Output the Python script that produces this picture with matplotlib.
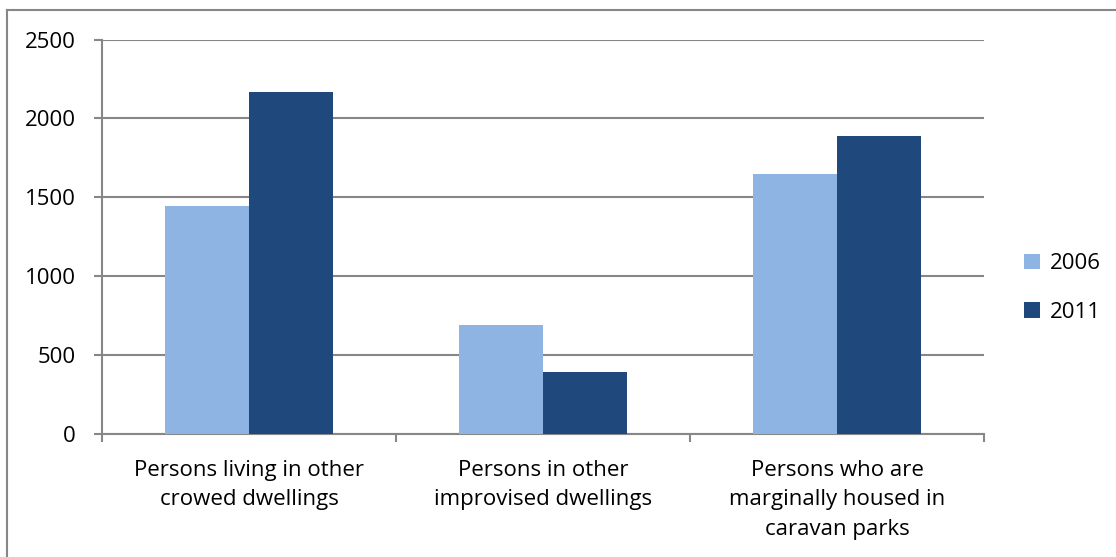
import matplotlib.pyplot as plt
import numpy as np
from matplotlib.lines import Line2D

plt.rcParams['font.family'] = ['Open Sans', 'DejaVu Sans']

categories = ["Persons living in other\ncrowed dwellings",
              "Persons in other\nimprovised dwellings",
              "Persons who are\nmarginally housed in\ncaravan parks"]
years = ["2006", "2011"]
values_2006 = [1445, 688, 1647]
values_2011 = [2170, 395, 1887]
colors = ["#8EB4E3", "#1F497D"]

W, H = 1116, 557
fig = plt.figure(figsize=(W / 100, H / 100), dpi=100)
ax = fig.add_axes([102 / W, 1 - 434 / H, (984 - 102) / W, (434 - 39.5) / H])

x = np.arange(len(categories))
w = 0.2857
ax.bar(x - w / 2, values_2006, w, color=colors[0], label=years[0], zorder=3)
ax.bar(x + w / 2, values_2011, w, color=colors[1], label=years[1], zorder=3)

grid_c = "#878787"
fs = 16
ax.set_xlim(-0.5, 2.5)
ax.set_ylim(0, 2500)
ax.set_yticks(range(0, 2501, 500))
ax.yaxis.grid(True, color=grid_c, linewidth=1.5, zorder=0)
ax.set_axisbelow(True)

for s in ["top", "right"]:
    ax.spines[s].set_visible(False)
for s in ["left", "bottom"]:
    ax.spines[s].set_color(grid_c)
    ax.spines[s].set_linewidth(1.5)

ax.tick_params(axis="y", length=6, width=1.5, color=grid_c, pad=13,
               labelsize=fs, labelcolor="black")
# category boundaries carry the ticks, labels sit in the middle
ax.set_xticks([-0.5, 0.5, 1.5, 2.5])
ax.set_xticklabels([])
ax.tick_params(axis="x", length=6, width=1.5, color=grid_c)
for i, lab in enumerate(categories):
    ax.text(i, -0.066, lab, transform=ax.get_xaxis_transform(), ha="center",
            va="top", fontsize=fs, linespacing=1.52)

leg = fig.legend(loc="center left", bbox_to_anchor=(1004 / W, 1 - 288 / H),
                 frameon=False, fontsize=fs, handlelength=0.7,
                 handleheight=0.7, handletextpad=0.45, labelspacing=1.25)

# chart area border (only top and left fall inside the image)
fig.add_artist(Line2D([7 / W, 7 / W], [0, 1 - 10 / H], color=grid_c, lw=1.5))
fig.add_artist(Line2D([7 / W, 1], [1 - 10 / H, 1 - 10 / H], color=grid_c, lw=1.5))

fig.savefig("out.png", dpi=100)
